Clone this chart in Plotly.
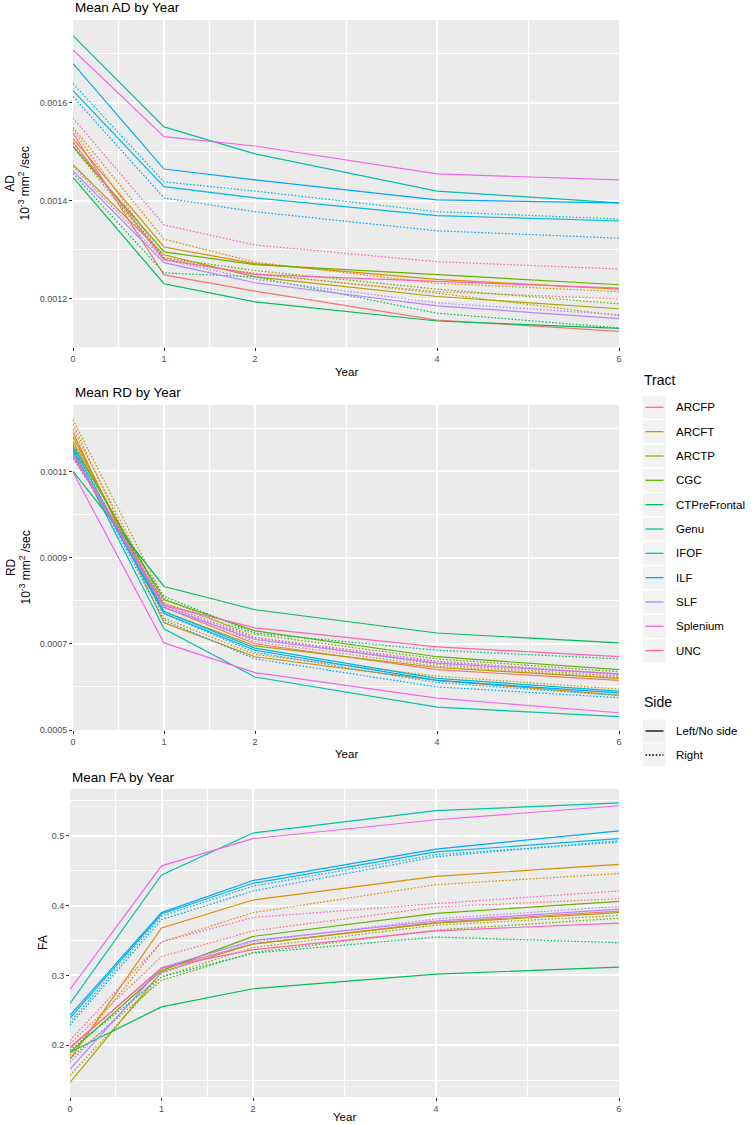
import plotly.graph_objects as go

W, H = 753, 1125

YEARS = [0, 1, 2, 4, 6]
TRACTS = ["ARCFP", "ARCFT", "ARCTP", "CGC", "CTPreFrontal", "Genu",
          "IFOF", "ILF", "SLF", "Splenium", "UNC"]
SIDES = ["Left/No side", "Right"]

# mean axial diffusivity (10^-3 mm^2/sec)
AD_LEFT = {
    "ARCFP": [0.001538, 0.001249, 0.001216, 0.001157, 0.001134],
    "ARCFT": [0.001527, 0.001306, 0.001272, 0.001240, 0.001220],
    "ARCTP": [0.001474, 0.001290, 0.001245, 0.001205, 0.001180],
    "CGC": [0.001511, 0.001296, 0.001270, 0.001250, 0.001229],
    "CTPreFrontal": [0.001448, 0.001231, 0.001194, 0.001155, 0.001140],
    "Genu": [0.001737, 0.001551, 0.001496, 0.001420, 0.001396],
    "IFOF": [0.001625, 0.001429, 0.001406, 0.001370, 0.001359],
    "ILF": [0.001680, 0.001465, 0.001443, 0.001402, 0.001396],
    "SLF": [0.001461, 0.001274, 0.001233, 0.001186, 0.001160],
    "Splenium": [0.001708, 0.001531, 0.001512, 0.001455, 0.001443],
    "UNC": [0.001520, 0.001280, 0.001250, 0.001236, 0.001222],
}
AD_RIGHT = {
    "ARCFP": [0.001545, 0.001283, 0.001250, 0.001215, 0.001200],
    "ARCFT": [0.001550, 0.001322, 0.001275, 0.001232, 0.001215],
    "ARCTP": [0.001510, 0.001280, 0.001252, 0.001212, 0.001166],
    "CGC": [0.001518, 0.001284, 0.001258, 0.001220, 0.001190],
    "CTPreFrontal": [0.001456, 0.001253, 0.001245, 0.001171, 0.001141],
    "IFOF": [0.001639, 0.001439, 0.001420, 0.001378, 0.001363],
    "ILF": [0.001613, 0.001406, 0.001378, 0.001339, 0.001324],
    "SLF": [0.001470, 0.001280, 0.001240, 0.001192, 0.001168],
    "UNC": [0.001569, 0.001351, 0.001310, 0.001276, 0.001261],
}

# mean radial diffusivity
RD_LEFT = {
    "ARCFP": [0.001170, 0.000785, 0.000700, 0.000640, 0.000615],
    "ARCFT": [0.001190, 0.000749, 0.000670, 0.000615, 0.000581],
    "ARCTP": [0.001180, 0.000775, 0.000695, 0.000645, 0.000620],
    "CGC": [0.001160, 0.000802, 0.000730, 0.000670, 0.000640],
    "CTPreFrontal": [0.001100, 0.000833, 0.000779, 0.000725, 0.000702],
    "Genu": [0.001150, 0.000735, 0.000623, 0.000553, 0.000531],
    "IFOF": [0.001155, 0.000775, 0.000690, 0.000620, 0.000590],
    "ILF": [0.001145, 0.000770, 0.000685, 0.000615, 0.000586],
    "SLF": [0.001140, 0.000784, 0.000710, 0.000655, 0.000630],
    "Splenium": [0.001098, 0.000702, 0.000633, 0.000574, 0.000540],
    "UNC": [0.001135, 0.000790, 0.000737, 0.000693, 0.000670],
}
RD_RIGHT = {
    "ARCFP": [0.001198, 0.000790, 0.000705, 0.000648, 0.000622],
    "ARCFT": [0.001209, 0.000760, 0.000675, 0.000625, 0.000595],
    "ARCTP": [0.001220, 0.000805, 0.000715, 0.000652, 0.000625],
    "CGC": [0.001165, 0.000795, 0.000722, 0.000665, 0.000635],
    "CTPreFrontal": [0.001130, 0.000810, 0.000725, 0.000685, 0.000665],
    "IFOF": [0.001160, 0.000770, 0.000680, 0.000610, 0.000580],
    "ILF": [0.001150, 0.000755, 0.000665, 0.000600, 0.000575],
    "SLF": [0.001145, 0.000788, 0.000712, 0.000658, 0.000628],
    "UNC": [0.001140, 0.000792, 0.000715, 0.000660, 0.000630],
}

# mean fractional anisotropy
FA_LEFT = {
    "ARCFP": [0.197, 0.310, 0.345, 0.376, 0.392],
    "ARCFT": [0.180, 0.368, 0.408, 0.442, 0.459],
    "ARCTP": [0.147, 0.305, 0.345, 0.375, 0.390],
    "CGC": [0.190, 0.307, 0.356, 0.389, 0.406],
    "CTPreFrontal": [0.190, 0.255, 0.281, 0.302, 0.312],
    "Genu": [0.260, 0.444, 0.504, 0.536, 0.547],
    "IFOF": [0.239, 0.388, 0.432, 0.477, 0.496],
    "ILF": [0.243, 0.390, 0.436, 0.481, 0.507],
    "SLF": [0.166, 0.311, 0.350, 0.378, 0.395],
    "Splenium": [0.280, 0.457, 0.496, 0.523, 0.543],
    "UNC": [0.196, 0.311, 0.337, 0.364, 0.375],
}
FA_RIGHT = {
    "ARCFP": [0.202, 0.327, 0.364, 0.398, 0.410],
    "ARCFT": [0.186, 0.348, 0.390, 0.430, 0.446],
    "ARCTP": [0.157, 0.298, 0.340, 0.372, 0.386],
    "CGC": [0.181, 0.293, 0.333, 0.365, 0.382],
    "CTPreFrontal": [0.193, 0.298, 0.332, 0.355, 0.347],
    "IFOF": [0.233, 0.385, 0.428, 0.473, 0.491],
    "ILF": [0.229, 0.380, 0.421, 0.470, 0.493],
    "SLF": [0.176, 0.303, 0.348, 0.381, 0.399],
    "UNC": [0.207, 0.348, 0.383, 0.403, 0.421],
}

# ggplot default hue palette for 11 levels
PALETTE = ["#F8766D", "#DB8E00", "#AEA200", "#64B200", "#00BD5C", "#00C1A7",
           "#00BADE", "#00A6FF", "#B385FF", "#EF67EB", "#FF63B6"]

FONT = "Liberation Sans, Arial, sans-serif"
UNIT = "10<sup>-3</sup> mm<sup>2</sup> /sec"
DOT = "1.6px,1.8px"


def px_x(p):
    return p / W


def px_y(p):
    return 1 - p / H


panels = [
    # title, left data, right data, y title, y range, y ticks, y minor, tick format,
    # pixel box, y title x, x title offset
    ("Mean AD by Year", AD_LEFT, AD_RIGHT, "AD<br>" + UNIT, [0.001102, 0.001769],
     [0.0012, 0.0014, 0.0016], [0.0011, 0.0013, 0.0015, 0.0017], ".4f", (73, 619, 20, 347), 18, 25),
    ("Mean RD by Year", RD_LEFT, RD_RIGHT, "RD<br>" + UNIT, [0.0005, 0.001254],
     [0.0005, 0.0007, 0.0009, 0.0011], [0.0006, 0.0008, 0.0010, 0.0012], ".4f", (73, 619, 405, 730), 18, 24),
    ("Mean FA by Year", FA_LEFT, FA_RIGHT, "FA", [0.126, 0.567],
     [0.2, 0.3, 0.4, 0.5], [0.15, 0.25, 0.35, 0.45, 0.55], ".1f", (70, 619, 789, 1097), 43, 20),
]

fig = go.Figure()
layout = dict(
    width=W, height=H,
    margin=dict(l=0, r=0, t=0, b=0, autoexpand=False),
    paper_bgcolor="white",
    plot_bgcolor="#EBEBEB",
    showlegend=False,
    font=dict(family=FONT, color="black"),
)
annotations = []
shapes = []

for i, (title, left, right, ytitle, yrange, yticks, yminor, fmt, box, ytx, xto) in enumerate(panels):
    n = "" if i == 0 else str(i + 1)
    xa, ya = "x" + n, "y" + n
    x0, x1, y0, y1 = box

    for k, tract in enumerate(TRACTS):
        for side, data, dash in ((SIDES[0], left, "solid"), (SIDES[1], right, DOT)):
            if tract not in data:
                continue
            fig.add_trace(go.Scatter(
                x=YEARS, y=data[tract], mode="lines",
                name=f"{tract} ({side})",
                line=dict(color=PALETTE[k], width=1.2, dash=dash),
                xaxis=xa, yaxis=ya,
            ))

    layout["xaxis" + n] = dict(
        domain=[px_x(x0), px_x(x1)], range=[0, 6], anchor=ya, automargin=False,
        tickvals=YEARS, ticks="outside", ticklen=3, tickcolor="#333333",
        tickfont=dict(size=9, color="#4D4D4D"),
        showgrid=True, gridcolor="white", gridwidth=1.6, zeroline=False,
        showline=False,
        minor=dict(tickvals=[0.5, 1.5, 3, 5], showgrid=True,
                   gridcolor="white", gridwidth=0.8, ticks=""),
    )
    layout["yaxis" + n] = dict(
        domain=[px_y(y1), px_y(y0)], range=yrange, anchor=xa, automargin=False,
        tickvals=yticks, tickformat=fmt, ticks="outside", ticklen=3,
        tickcolor="#333333", tickfont=dict(size=9, color="#4D4D4D"),
        showgrid=True, gridcolor="white", gridwidth=1.6, zeroline=False,
        showline=False,
        minor=dict(tickvals=yminor, showgrid=True, gridcolor="white",
                   gridwidth=0.8, ticks=""),
    )

    annotations.append(dict(
        text=title, xref="paper", yref="paper",
        x=px_x(x0), y=px_y(y0 - 12), xanchor="left", yanchor="middle",
        showarrow=False, font=dict(size=13.5, color="black"),
    ))
    annotations.append(dict(
        text="Year", xref="paper", yref="paper",
        x=px_x((x0 + x1) / 2), y=px_y(y1 + xto), xanchor="center", yanchor="middle",
        showarrow=False, font=dict(size=11.5, color="black"),
    ))
    annotations.append(dict(
        text=ytitle, xref="paper", yref="paper", textangle=-90,
        x=px_x(ytx), y=px_y((y0 + y1) / 2), xanchor="center", yanchor="middle",
        showarrow=False, font=dict(size=12, color="black"),
    ))

# manual ggplot style legend
KEY_X0, KEY_X1 = 643, 666
LABEL_X = 674
STEP = 24.34


def add_key(cy, color, dash, label):
    shapes.append(dict(type="rect", xref="paper", yref="paper",
                       x0=px_x(KEY_X0), x1=px_x(KEY_X1),
                       y0=px_y(cy + 11.5), y1=px_y(cy - 11.5),
                       fillcolor="#F2F2F2", line=dict(width=0)))
    shapes.append(dict(type="line", xref="paper", yref="paper",
                       x0=px_x(KEY_X0 + 2.5), x1=px_x(KEY_X1 - 2.5),
                       y0=px_y(cy), y1=px_y(cy),
                       line=dict(color=color, width=1.3, dash=dash)))
    annotations.append(dict(text=label, xref="paper", yref="paper",
                            x=px_x(LABEL_X), y=px_y(cy), xanchor="left",
                            yanchor="middle", showarrow=False,
                            font=dict(size=11.5, color="black")))


annotations.append(dict(text="Tract", xref="paper", yref="paper",
                        x=px_x(642), y=px_y(380), xanchor="left", yanchor="middle",
                        showarrow=False, font=dict(size=14, color="black")))
for k, tract in enumerate(TRACTS):
    add_key(407.3 + k * STEP, PALETTE[k], "solid", tract)

annotations.append(dict(text="Side", xref="paper", yref="paper",
                        x=px_x(642), y=px_y(702), xanchor="left", yanchor="middle",
                        showarrow=False, font=dict(size=14, color="black")))
add_key(731, "black", "solid", SIDES[0])
add_key(755, "black", DOT, SIDES[1])

layout["annotations"] = annotations
layout["shapes"] = shapes
fig.update_layout(**layout)

# drop the default page margin so the figure fills the window exactly
fig.write_html("out.html", config={"displayModeBar": False},
               post_script="document.body.style.margin='0';")
